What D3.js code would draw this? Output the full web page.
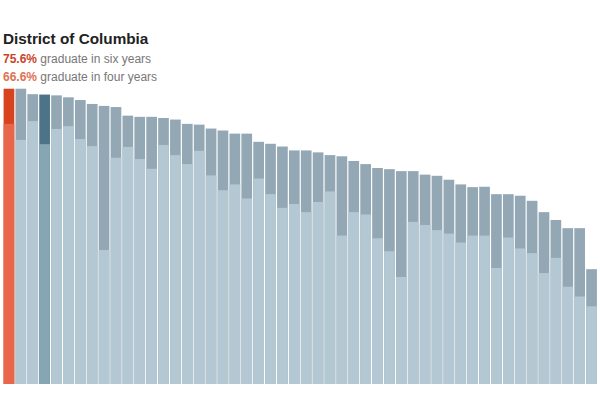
<!DOCTYPE html>
<html lang="en">
<head>
<meta charset="UTF-8">
<title>Graduation rates</title>
<script src="https://d3js.org/d3.v7.min.js"></script>
<style>
  body { margin: 0; background: #fff; font-family: Arial, "Liberation Sans", sans-serif; }
  .title { font-size: 15.3px; font-weight: bold; fill: #222; }
  .sub { font-size: 12px; fill: #777; }
  .pct { font-weight: bold; }
</style>
</head>
<body>
<div id="chart"></div>
<script>
  // six-year and four-year graduation rates, sorted by six-year rate
  const sixYear = [75.6, 75.6, 74.2, 74.1, 73.9, 73.4, 72.7, 71.7, 71.2, 70.9,
                   68.7, 68.4, 68.4, 68.1, 67.7, 66.6, 66.4, 65.4, 64.9, 64.1,
                   64.1, 62.0, 61.5, 60.8, 59.8, 59.8, 59.3, 58.6, 58.3, 57.1,
                   56.3, 55.3, 55.0, 54.5, 54.5, 53.6, 53.3, 52.3, 51.1, 50.4,
                   50.5, 48.6, 48.6, 48.2, 46.9, 44.0, 42.0, 39.9, 39.9, 29.4];
  const fourYear = [66.6, 62.5, 67.3, 61.4, 65.3, 66.0, 62.7, 60.9, 34.3, 57.9,
                    60.7, 57.6, 55.1, 61.2, 58.6, 56.3, 59.7, 53.4, 49.6, 51.1,
                    47.5, 52.6, 48.6, 45.1, 46.1, 44.0, 46.6, 49.3, 38.0, 44.0,
                    43.4, 37.3, 34.0, 27.4, 41.5, 40.7, 39.4, 38.5, 36.2, 38.0,
                    38.0, 29.7, 37.5, 34.7, 33.5, 28.4, 32.3, 24.9, 22.4, 19.9];
  const selected = 0;   // District of Columbia
  const compared = 3;
  const selectedName = "District of Columbia";

  const width = 600, height = 400;
  const svg = d3.select("#chart").append("svg")
      .attr("width", width)
      .attr("height", height);

  const x = d3.scaleBand()
      .domain(d3.range(sixYear.length))
      .range([3, 597.5])
      .paddingInner(0.1)
      .paddingOuter(0.05);

  const y = d3.scaleLinear()
      .domain([0, 100])
      .range([384, -6.6]);

  function topColor(i) {
    if (i === selected) return "#d8431f";
    if (i === compared) return "#4c7388";
    return "#93a8b4";
  }
  function bottomColor(i) {
    if (i === selected) return "#e8674b";
    if (i === compared) return "#86a6b3";
    return "#b3c8d2";
  }

  const bars = svg.append("g").selectAll("g")
      .data(sixYear)
      .join("g");

  // six-year segment (full bar)
  bars.append("rect")
      .attr("x", (d, i) => x(i))
      .attr("width", x.bandwidth())
      .attr("y", d => y(d))
      .attr("height", d => y(0) - y(d))
      .attr("fill", (d, i) => topColor(i));

  // four-year segment
  bars.append("rect")
      .attr("x", (d, i) => x(i))
      .attr("width", x.bandwidth())
      .attr("y", (d, i) => y(fourYear[i]))
      .attr("height", (d, i) => y(0) - y(fourYear[i]))
      .attr("fill", (d, i) => bottomColor(i));

  // label
  svg.append("text")
      .attr("class", "title")
      .attr("x", 3)
      .attr("y", 44)
      .text(selectedName);

  const l1 = svg.append("text").attr("class", "sub").attr("x", 3).attr("y", 63);
  l1.append("tspan").attr("class", "pct").attr("fill", "#c9442c")
      .text(sixYear[selected].toFixed(1) + "%");
  l1.append("tspan").text(" graduate in six years");

  const l2 = svg.append("text").attr("class", "sub").attr("x", 3).attr("y", 81);
  l2.append("tspan").attr("class", "pct").attr("fill", "#dd7252")
      .text(fourYear[selected].toFixed(1) + "%");
  l2.append("tspan").text(" graduate in four years");
</script>
</body>
</html>
